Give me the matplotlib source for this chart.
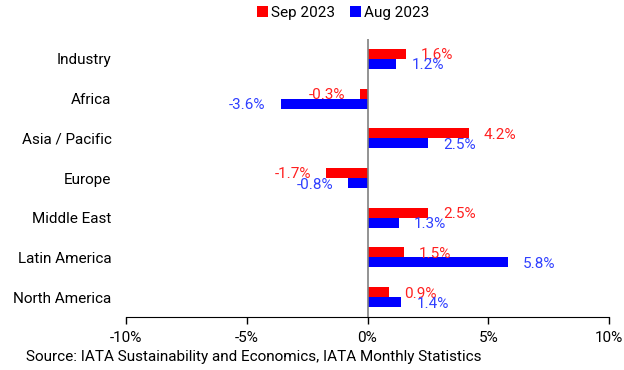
import numpy as np
import matplotlib
matplotlib.use('Agg')
import matplotlib.pyplot as plt

plt.rcParams['font.family'] = ['Roboto', 'DejaVu Sans']

regions = ['Industry', 'Africa', 'Asia / Pacific', 'Europe', 'Middle East',
           'Latin America', 'North America']
sep_2023 = [1.6, -0.3, 4.2, -1.7, 2.5, 1.5, 0.9]
aug_2023 = [1.2, -3.6, 2.5, -0.8, 1.3, 5.8, 1.4]
xticks = [-10, -5, 0, 5, 10]
source = 'Source: IATA Sustainability and Economics, IATA Monthly Statistics'

red = '#FF0000'
blue = '#0000FF'

fig = plt.figure(figsize=(6.24, 3.70), dpi=100)
ax = fig.add_axes([126 / 624, 1 - 317 / 370, 483 / 624, 278 / 370])

y = np.arange(len(regions))
h = 0.252
ax.barh(y - h / 2, sep_2023, height=h, color=red, label='Sep 2023')
ax.barh(y + h / 2, aug_2023, height=h, color=blue, label='Aug 2023')

for i in range(len(regions)):
    for val, yy, col in [(sep_2023[i], y[i] - h / 2, '#FF2020'),
                         (aug_2023[i], y[i] + h / 2, '#3040FF')]:
        off = 15 if val >= 0 else -15
        ax.annotate(f'{val:.1f}%', (val, yy), xytext=(off, -1.5),
                    textcoords='offset pixels', ha='left' if val >= 0 else 'right',
                    va='center', color=col, fontsize=11)

ax.axvline(0, color='#808080', lw=1.2)
ax.set_xlim(-10, 10)
ax.set_ylim(6.5, -0.5)
ax.set_xticks(xticks)
ax.set_xticklabels([f'{t}%' for t in xticks], fontsize=11)
ax.set_yticks(y)
ax.set_yticklabels(regions, fontsize=11)
ax.tick_params(axis='y', length=0, pad=10.5)
ax.tick_params(axis='x', length=5, width=1, color='black', pad=5)
for s in ['top', 'right', 'left']:
    ax.spines[s].set_visible(False)
ax.spines['bottom'].set_color('black')

fig.legend(loc='center', bbox_to_anchor=(343 / 624, 1 - 13 / 370), ncol=2, frameon=False,
           fontsize=11, handlelength=0.7, handleheight=0.7, handletextpad=0.2,
           columnspacing=1.0)

fig.text(26 / 624, 1 - 357 / 370, source, fontsize=11, va='center', ha='left')

fig.savefig('out.png', dpi=100)
